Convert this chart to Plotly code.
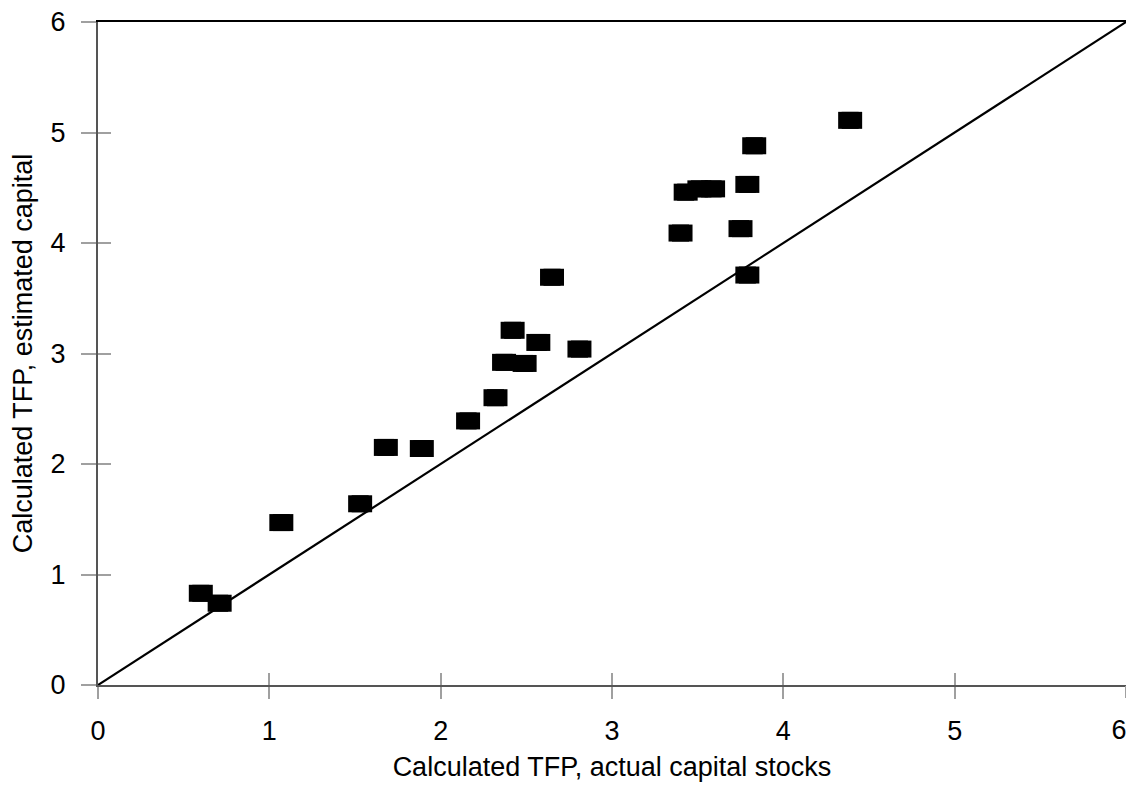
import plotly.graph_objects as go

# Data
tfp_actual = [0.60, 0.71, 1.07, 1.53, 1.68, 1.89, 2.16, 2.32, 2.37, 2.49, 2.42, 2.57,
              2.81, 2.65, 3.40, 3.43, 3.51, 3.59, 3.75, 3.79, 3.79, 3.83, 4.39]
tfp_estimated = [0.83, 0.74, 1.47, 1.64, 2.15, 2.14, 2.39, 2.60, 2.92, 2.91, 3.21, 3.10,
                 3.04, 3.69, 4.09, 4.46, 4.49, 4.49, 4.13, 4.53, 3.71, 4.88, 5.11]
diag = [0, 6]
tick_vals = [0, 1, 2, 3, 4, 5, 6]
tick_labels = ["0", "1", "2", "3", "4", "5", "6"]
x_title = "Calculated TFP, actual capital stocks"
y_title = "Calculated TFP, estimated capital"

# the page body has an 8px margin, so the figure is placed at (8, 8)
W, H = 1118, 774
ML, MR, MT, MB = 90, 0, 14, 97
plot_w = W - ML - MR
half_w_data = 12 * 6 / plot_w  # rectangle half width in data units

font = "Liberation Sans, Arial, sans-serif"
FS = 27
tickfont = dict(family=font, size=FS, color="black")

fig = go.Figure()
fig.add_trace(go.Scatter(x=diag, y=diag, mode="lines",
                         line=dict(color="black", width=2.2),
                         hoverinfo="skip", showlegend=False, cliponaxis=False))
fig.add_trace(go.Scatter(
    x=tfp_actual, y=tfp_estimated, mode="markers",
    marker=dict(symbol="square", size=17, color="black", line=dict(width=0)),
    error_x=dict(type="constant", value=half_w_data, thickness=17, width=0,
                 color="black"),
    showlegend=False))

axis_common = dict(range=[0, 6], showgrid=False, zeroline=False, automargin=False)
fig.update_layout(
    width=W, height=H,
    margin=dict(l=ML, r=MR, t=MT, b=MB, autoexpand=False),
    paper_bgcolor="white", plot_bgcolor="white",
    font=dict(family=font, size=FS, color="black"),
    xaxis=dict(**axis_common, tickvals=tick_vals[:-1], ticktext=tick_labels[:-1],
               showline=True, linecolor="#555555", linewidth=2,
               ticks="outside", ticklen=12, tickwidth=2, tickcolor="#a0a0a0",
               tickfont=tickfont, ticklabelstandoff=9, ticklabeloverflow="allow",
               title=dict(text=x_title, font=dict(size=FS), standoff=17)),
    yaxis=dict(**axis_common, tickvals=tick_vals, ticktext=tick_labels,
               showline=True, linecolor="#555555", linewidth=2,
               ticks="outside", ticklen=15, tickwidth=2, tickcolor="#a0a0a0",
               tickfont=tickfont, ticklabelstandoff=10, ticklabeloverflow="allow",
               title=dict(text=y_title, font=dict(size=FS), standoff=17)),
    xaxis2=dict(**axis_common, tickvals=tick_vals, overlaying="x", side="bottom",
                showline=False, ticks="inside", ticklen=12, tickwidth=2,
                tickcolor="#a0a0a0", showticklabels=False),
    yaxis2=dict(**axis_common, tickvals=tick_vals, overlaying="y", side="left",
                showline=False, ticks="inside", ticklen=13, tickwidth=2,
                tickcolor="#a0a0a0", showticklabels=False),
    xaxis3=dict(**axis_common, tickvals=tick_vals, overlaying="x", side="top",
                showline=True, linecolor="black", linewidth=2, ticks="",
                showticklabels=False),
    yaxis3=dict(**axis_common, tickvals=tick_vals, overlaying="y", side="right",
                showline=True, linecolor="black", linewidth=2, ticks="",
                showticklabels=False),
    # last x tick (6) with its label pulled inside the page, plus its outside tick mark
    xaxis4=dict(**axis_common, tickvals=tick_vals[-1:], ticktext=tick_labels[-1:],
                overlaying="x", side="bottom", showline=False,
                ticks="outside", ticklen=12, tickwidth=2, tickcolor="#a0a0a0",
                tickfont=tickfont, ticklabelstandoff=9, ticklabelshift=-7,
                ticklabeloverflow="allow"),
)
# dummy traces to activate overlay axes
fig.add_trace(go.Scatter(x=[None], y=[None], xaxis="x2", yaxis="y2",
                         showlegend=False, hoverinfo="skip"))
fig.add_trace(go.Scatter(x=[None], y=[None], xaxis="x3", yaxis="y3",
                         showlegend=False, hoverinfo="skip"))
fig.add_trace(go.Scatter(x=[None], y=[None], xaxis="x4", yaxis="y",
                         showlegend=False, hoverinfo="skip"))

fig.write_html("out.html")
